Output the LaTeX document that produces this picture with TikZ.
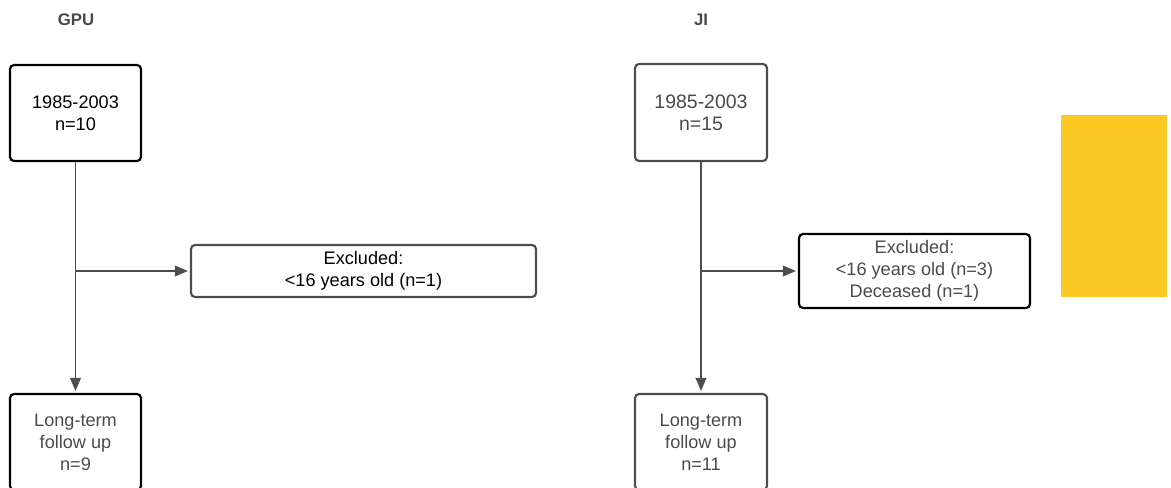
\documentclass[tikz,border=0pt]{standalone}
\usepackage{fontspec}
\setmainfont{Liberation Sans}
\usetikzlibrary{arrows.meta}
\definecolor{linegray}{HTML}{4D4D4D}
\definecolor{textgray}{HTML}{4A4A4A}
\definecolor{flagyellow}{HTML}{FCC824}
\tikzset{
  box/.style={draw, line width=1.6pt, rounded corners=3pt, align=center, inner sep=0pt,
    font=\fontsize{13.6}{16.5}\selectfont},
  bigtext/.style={font=\fontsize{14.6}{16.5}\selectfont},
  link/.style={draw=linegray, line width=1.2pt, shorten >=1.5pt,
    -{Triangle[length=9.75pt, width=8pt]}},
  head/.style={font=\fontsize{12.6}{15}\selectfont\bfseries, text=textgray}
}

\begin{document}
\begin{tikzpicture}[x=0.75pt, y=-0.75pt]
\useasboundingbox (0,0) rectangle (1171,488);
\clip (0,0) rectangle (1171,488);

% GPU
\node[head] (gpu) at (76,20) {GPU};
\node[box, minimum width=98.25pt, minimum height=72pt] (a1) at (75.5,113) {1985-2003\\n=10};
\node[box, draw=linegray, minimum width=258.75pt, minimum height=39pt] (e1) at (363.5,271) {Excluded:\\<16 years old (n=1)};
\node[box, text=textgray, minimum width=98.25pt, minimum height=72pt] (f1) at (75.5,442) {Long-term\\follow up\\n=9};

\coordinate (b1) at (a1.south |- e1.west);
\draw[link] (a1.south) -- (f1.north);
\draw[link] (b1) -- (e1.west);

% JI
\node[head] (ji) at (701,20) {JI};
\node[box, bigtext, draw=linegray, text=textgray, minimum width=99pt, minimum height=72.75pt] (a2) at (701,112.5) {1985-2003\\n=15};
\node[box, text=textgray, minimum width=173.25pt, minimum height=55.5pt] (e2) at (914.5,271) {Excluded:\\<16 years old (n=3)\\Deceased (n=1)};
\node[box, draw=linegray, text=textgray, minimum width=99pt, minimum height=72pt] (f2) at (701,442) {Long-term\\follow up\\n=11};

\coordinate (b2) at (a2.south |- e2.west);
\draw[link] (a2.south) -- (f2.north);
\draw[link] (b2) -- (e2.west);

\fill[flagyellow] (1061,115) rectangle (1167,297);
\end{tikzpicture}
\end{document}
